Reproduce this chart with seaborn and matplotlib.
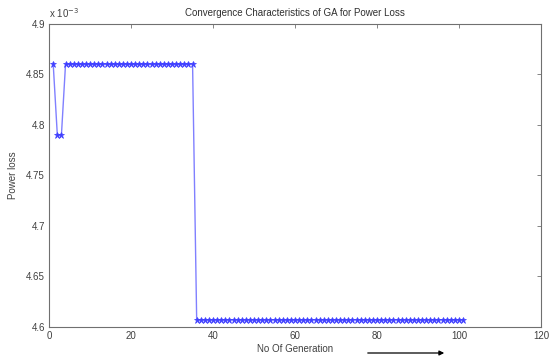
import numpy as np
import pandas as pd
import seaborn as sns
import matplotlib
matplotlib.use('Agg')
import matplotlib.pyplot as plt

# power loss per generation (x 1e-3)
generations = list(range(1, 102))
loss_start = [4.86, 4.79, 4.79]
loss_plateau = [4.86] * 32          # generations 4..35
loss_final = [4.607] * 66           # generations 36..101
power_loss = loss_start + loss_plateau + loss_final

df = pd.DataFrame({'gen': generations, 'loss': power_loss})

sns.set_style('white')
plt.rcParams['font.family'] = ['Liberation Sans', 'DejaVu Sans']

fig = plt.figure(figsize=(5.52, 3.58), dpi=100)
ax = fig.add_axes([0.089, 0.087, 0.891, 0.846])

sns.lineplot(data=df, x='gen', y='loss', ax=ax, color='#8080ff', lw=1.0,
             marker='*', markersize=4.5, markerfacecolor='#4040ff',
             markeredgecolor='#4040ff', markeredgewidth=0.5)

ax.set_xlim(0, 120)
ax.set_ylim(4.6, 4.9)
ax.set_xticks(np.arange(0, 121, 20))
ax.set_yticks([4.6, 4.65, 4.7, 4.75, 4.8, 4.85, 4.9])
ax.set_yticklabels(['4.6', '4.65', '4.7', '4.75', '4.8', '4.85', '4.9'])

for s in ax.spines.values():
    s.set_color('#707070')
    s.set_linewidth(0.8)
ax.tick_params(direction='in', length=3, width=0.6, colors='#707070',
               labelcolor='#404040', labelsize=7, top=True, right=True, pad=3)

ax.set_title('Convergence Characteristics of GA for Power Loss', fontsize=7,
             color='#303030', pad=6)
ax.set_xlabel('No Of Generation', fontsize=7, color='#404040', labelpad=2)
ax.set_ylabel('Power loss', fontsize=7, color='#404040', labelpad=6)
ax.text(0.0, 1.012, r'x 10$^{-3}$', transform=ax.transAxes, fontsize=7,
        color='#404040', va='bottom', ha='left')

fig.add_artist(matplotlib.patches.FancyArrowPatch(
    (365 / 552, 1 - 353 / 358), (447 / 552, 1 - 353 / 358),
    transform=fig.transFigure, arrowstyle='-|>', mutation_scale=7,
    color='black', lw=0.9))

fig.savefig('out.png', dpi=100)
